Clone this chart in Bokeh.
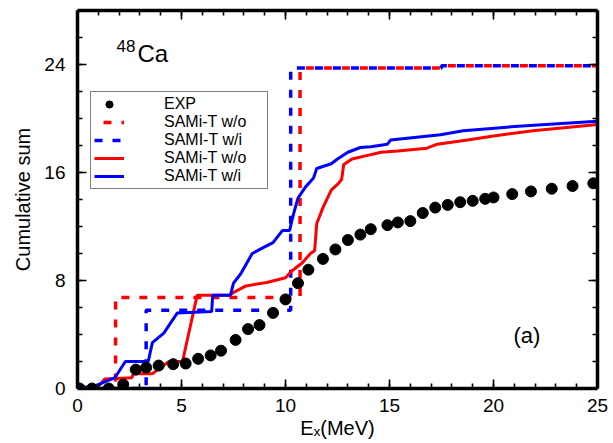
from bokeh.plotting import figure
from bokeh.models import Legend, LegendItem, LinearAxis, FixedTicker, Label, Range1d
from bokeh.embed import file_html
from bokeh.resources import INLINE

# ---- data ----
exp_e = [0.1, 0.7, 1.5, 2.2, 2.8, 3.3, 3.9, 4.6, 5.2, 5.8, 6.4, 6.9, 7.6, 8.2, 8.75, 9.4,
         10.0, 10.6, 11.1, 11.8, 12.4, 13.0, 13.6, 14.1, 14.9, 15.4, 16.0, 16.6, 17.2,
         17.8, 18.4, 19.0, 19.6, 20.0, 20.9, 21.8, 22.8, 23.8, 24.8]
exp_s = [0.0, 0.0, 0.0, 0.3, 1.4, 1.55, 1.7, 1.8, 1.85, 2.2, 2.45, 2.8, 3.6, 4.4, 4.7, 5.6,
         6.6, 7.8, 8.8, 9.6, 10.3, 11.0, 11.4, 11.8, 12.1, 12.3, 12.4, 13.0, 13.4,
         13.6, 13.8, 13.9, 14.05, 14.15, 14.4, 14.6, 14.8, 15.0, 15.2]

wo_step_e = [0, 1.83, 1.83, 10.7, 10.7, 17.5, 17.5, 25]
wo_step_s = [0, 0, 6.75, 6.75, 23.75, 23.75, 23.9, 23.9]
wi_step_e = [0, 3.3, 3.3, 10.25, 10.25, 17.5, 17.5, 25]
wi_step_s = [0, 0, 5.8, 5.8, 23.75, 23.75, 23.9, 23.9]

wo_e = [0, 0.6, 1.1, 1.3, 2.6, 2.7, 3.6, 4.4, 5.05, 5.75, 7.3, 7.6, 8.1, 9.1, 10.0, 10.3,
        10.8, 11.2, 11.4, 11.5, 11.8, 12.2, 12.55, 12.7, 12.8, 13.2, 13.9, 14.6, 15.4,
        16.8, 17.3, 18.75, 20.0, 21.9, 25]
wo_s = [0, 0.1, 0.3, 0.7, 0.8, 1.1, 1.1, 2.0, 2.0, 6.9, 6.9, 7.2, 7.6, 7.85, 8.2, 8.7,
        9.3, 10.0, 10.2, 12.2, 13.4, 14.7, 15.2, 15.5, 16.6, 17.0, 17.25, 17.5, 17.6,
        17.8, 18.1, 18.4, 18.7, 19.1, 19.55]

wi_e = [0, 0.85, 1.8, 2.3, 3.4, 3.6, 4.15, 4.8, 6.45, 6.5, 7.35, 7.5, 7.85, 8.4, 8.95,
        9.4, 9.85, 10.2, 10.3, 10.4, 10.6, 10.95, 11.35, 11.5, 12.2, 12.5, 13.0, 13.6,
        14.1, 14.9, 15.05, 16.2, 17.45, 18.55, 21.0, 25]
wi_s = [0, 0.2, 0.8, 2.0, 2.0, 3.4, 4.1, 5.6, 5.7, 6.9, 6.9, 7.8, 8.5, 10.0, 10.45,
        10.8, 11.7, 11.7, 12.4, 13.0, 14.1, 14.9, 15.6, 16.3, 16.65, 17.0, 17.5, 17.85,
        17.9, 18.1, 18.4, 18.6, 18.8, 19.1, 19.4, 19.8]

x_ticks = [0, 5, 10, 15, 20, 25]
x_minor = list(range(0, 26))
y_ticks = [0, 8, 16, 24]
y_minor = list(range(0, 29, 2))

legend_labels = ["EXP", "SAMi-T w/o", "SAMI-T w/i", "SAMi-T w/o", "SAMi-T w/i"]

FONT = "Liberation Sans"
RED = "#ff0000"
BLUE = "#0000ff"

p = figure(width=613, height=443, output_backend="svg", toolbar_location=None,
           x_range=Range1d(0, 25), y_range=Range1d(0, 28),
           min_border_left=77, min_border_right=16, min_border_top=10,
           min_border_bottom=55, x_axis_location=None, y_axis_location=None,
           background_fill_color="white", border_fill_color="white",
           outline_line_color=None)
p.xgrid.grid_line_color = None
p.ygrid.grid_line_color = None


def style_axis(ax, show_labels):
    ax.axis_line_width = 3.5
    ax.axis_line_color = "black"
    ax.major_tick_in = 9
    ax.major_tick_out = 0
    ax.minor_tick_in = 5
    ax.minor_tick_out = 0
    ax.major_tick_line_width = 1.6
    ax.minor_tick_line_width = 1.6
    ax.major_tick_line_color = "black"
    ax.minor_tick_line_color = "black"
    if show_labels:
        ax.major_label_text_font = FONT
        ax.major_label_text_font_size = "19px"
        ax.major_label_text_color = "black"
        ax.axis_label_text_font = FONT
        ax.axis_label_text_font_size = "20px"
        ax.axis_label_text_font_style = "normal"
        ax.axis_label_text_color = "black"
    else:
        ax.major_label_text_font_size = "10px"
        ax.major_label_standoff = 0


xb = LinearAxis(ticker=FixedTicker(ticks=x_ticks, minor_ticks=x_minor), axis_label="Eₓ(MeV)")
style_axis(xb, True)
xb.major_label_standoff = 10
xb.axis_label_standoff = 2
p.add_layout(xb, "below")

xt = LinearAxis(ticker=FixedTicker(ticks=x_ticks, minor_ticks=x_minor),
                major_label_overrides={t: "" for t in x_ticks})
style_axis(xt, False)
p.add_layout(xt, "above")

yl = LinearAxis(ticker=FixedTicker(ticks=y_ticks, minor_ticks=y_minor), axis_label="Cumulative sum")
style_axis(yl, True)
yl.major_label_standoff = 12
yl.axis_label_standoff = 7
p.add_layout(yl, "left")

yr = LinearAxis(ticker=FixedTicker(ticks=y_ticks, minor_ticks=y_minor),
                major_label_overrides={t: "" for t in y_ticks})
style_axis(yr, False)
p.add_layout(yr, "right")

r_wo_d = p.line(wo_step_e, wo_step_s, line_color=RED, line_width=3.5, line_dash="8 10",
                line_dash_offset=9)
r_wi_d = p.line(wi_step_e, wi_step_s, line_color=BLUE, line_width=3.5, line_dash="8 10")
r_wo = p.line(wo_e, wo_s, line_color=RED, line_width=3)
r_wi = p.line(wi_e, wi_s, line_color=BLUE, line_width=3)
r_exp = p.scatter(exp_e, exp_s, marker="circle", size=11, fill_color="black", line_color="black")

legend = Legend(items=[
    LegendItem(label=legend_labels[0], renderers=[r_exp]),
    LegendItem(label=legend_labels[1], renderers=[r_wo_d]),
    LegendItem(label=legend_labels[2], renderers=[r_wi_d]),
    LegendItem(label=legend_labels[3], renderers=[r_wo]),
    LegendItem(label=legend_labels[4], renderers=[r_wi]),
], location=(13, 199))
legend.label_text_font = FONT
legend.label_text_font_size = "16px"
legend.label_text_color = "black"
legend.label_height = 18
legend.label_width = 100
legend.glyph_height = 18
legend.glyph_width = 30
legend.label_standoff = 40
legend.spacing = 0
legend.padding = 3
legend.margin = 0
legend.border_line_color = "black"
legend.border_line_width = 1.5
legend.background_fill_color = "white"
legend.background_fill_alpha = 1.0
p.add_layout(legend)

p.add_layout(Label(x=1.875, y=25.4, text="48", text_font=FONT, text_font_size="17px",
                   text_color="black", text_baseline="alphabetic"))
p.add_layout(Label(x=2.88, y=24.84, text="Ca", text_font=FONT, text_font_size="24px",
                   text_color="black", text_baseline="alphabetic"))
p.add_layout(Label(x=20.96, y=3.95, text="(a)", text_font=FONT, text_font_size="22px",
                   text_color="black", text_baseline="middle"))

open("out.html", "w").write(file_html(p, INLINE))
